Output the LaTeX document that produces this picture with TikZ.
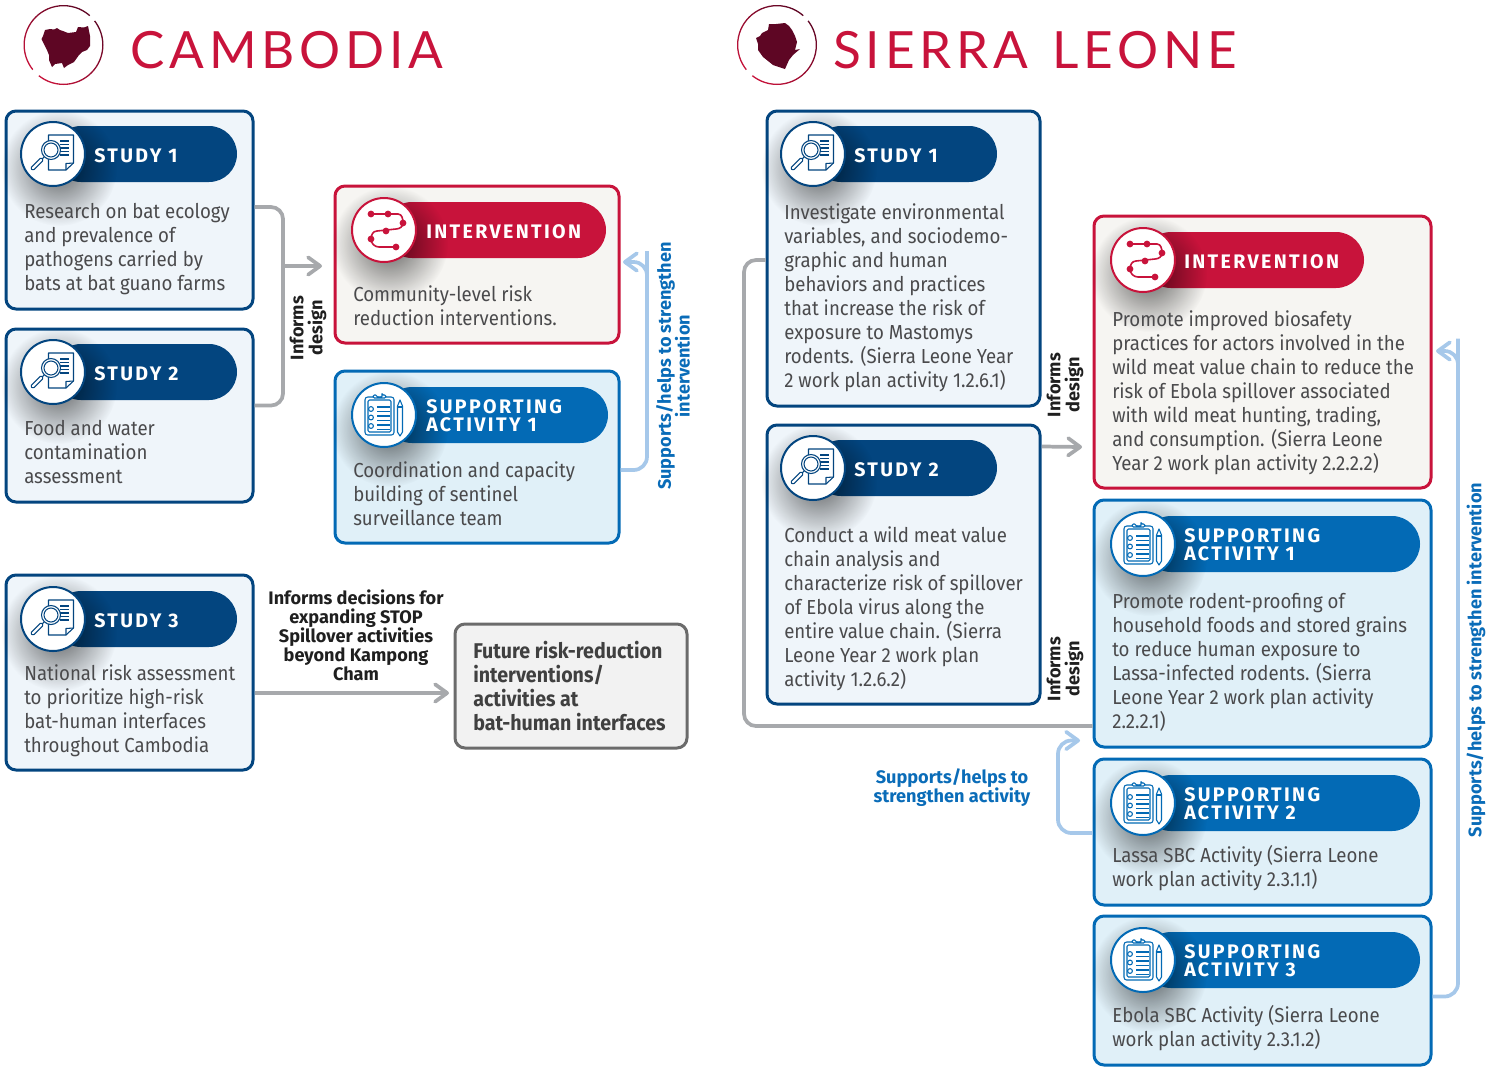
\documentclass[tikz,border=0pt]{standalone}
\usepackage{fontspec}
\usetikzlibrary{arrows.meta,calc,fadings}
\setmainfont{Fira Sans}
\newfontfamily\bodyf{Fira Sans}[FakeStretch=0.92]
\newfontfamily\boldf{Fira Sans}[BoldFont=* Bold]
\newfontfamily\futf{Fira Sans}[FakeStretch=0.92,BoldFont=* Bold]
\newfontfamily\headf{Fira Sans}[BoldFont=* Bold,LetterSpace=12]
\newfontfamily\titlef{Lato}[LetterSpace=9.5]
\definecolor{navy}{HTML}{03457F}
\definecolor{midblue}{HTML}{036AB5}
\definecolor{crim}{HTML}{C8133B}
\definecolor{maroon}{HTML}{5E0624}
\definecolor{studyfill}{HTML}{EFF5FA}
\definecolor{intfill}{HTML}{F6F5F2}
\definecolor{safill}{HTML}{E0F0F8}
\definecolor{linegray}{HTML}{A7A9AC}
\definecolor{lineblue}{HTML}{A6C8EA}
\definecolor{bodytext}{HTML}{4A4A4C}
\definecolor{labelblue}{HTML}{0A6CB8}
\tikzfading[name=softshadow,inner color=transparent!40,outer color=transparent!100]
\tikzset{
  panel/.style={draw=#1,line width=2.25pt,rounded corners=7.5pt,inner sep=0pt,outer sep=0pt,anchor=north west,xshift=.75pt,yshift=-.75pt},
  studybox/.style={panel=navy,fill=studyfill},
  intbox/.style={panel=crim,fill=intfill},
  sabox/.style={panel=midblue,fill=safill},
  futurebox/.style={panel=black!58,fill=black!5},
  bodytxt/.style={anchor=north west,inner sep=0pt,align=left,text=bodytext,xshift=-.75pt,font=\bodyf\fontsize{15.2}{18}\selectfont},
  headtxt/.style={anchor=west,inner sep=0pt,align=left,text=white,yshift=-.75pt,font=\headf\bfseries\fontsize{14.7}{13.5}\selectfont},
  infolab/.style={inner sep=0pt,align=center,text=black!88,font=\boldf\bfseries\fontsize{13.6}{14.2}\selectfont},
  bluelab/.style={inner sep=0pt,align=center,text=labelblue,font=\boldf\bfseries\fontsize{13.6}{14.2}\selectfont},
  titletxt/.style={anchor=base west,inner sep=0pt,text=crim,font=\titlef\fontsize{38.5}{44}\selectfont},
  grayline/.style={draw=linegray,line width=2.8pt,rounded corners=9pt},
  blueline/.style={draw=lineblue,line width=2.8pt,rounded corners=10pt},
  tip/.style={-{Straight Barb[length=9pt,width=13pt,line width=2.8pt,round]}},
  iconline/.style={draw=#1,line width=.8pt,line join=round},
}
% ring round a map
\newcommand{\ringlogo}[2]{%
  \shade[even odd rule,bottom color=crim,top color=maroon,shading angle=-40]
    (#1,#2) circle[radius=40] (#1,#2) circle[radius=38.7];
  \draw[white,line width=4pt] ($(#1,#2)+(141:39.3)$) arc[start angle=141,end angle=129,radius=39.3];
  \draw[white,line width=4pt] ($(#1,#2)+(-38:39.3)$) arc[start angle=-38,end angle=-48,radius=39.3];
}
% cx cy rightx colour
\newcommand{\pillhead}[4]{%
  \fill[#4,rounded corners=21pt] (#1,#2-28) rectangle (#3,#2+28);
  \fill[black,path fading=softshadow] (#1+6,#2+14) circle[radius=58];
  \fill[white] (#1,#2) circle[radius=32];
  \draw[#4,line width=1.5pt] (#1,#2) circle[radius=32];
}
\newcommand{\studyicon}[3]{\begin{scope}[shift={(#1,#2)}]
  \draw[iconline=#3,fill=white] (-4.5,-19) -- (20.5,-19) -- (20.5,9) -- (13,16) -- (-4.5,16) -- cycle;
  \draw[iconline=#3] (20.5,9) -- (13,9.5) -- (13,16);
  \foreach \yy in {-13,-9.5,-6,-2.5,1}{\draw[iconline=#3] (7,\yy) -- (16,\yy);}
  \draw[iconline=#3,fill=white] (-2,-4) circle[radius=9.5];
  \draw[iconline=#3] (-2,-4) circle[radius=7];
  \draw[iconline=#3] (-9,3) -- (-11,5);
  \draw[iconline=#3,fill=white,rounded corners=1pt] (-12,3.5) -- (-9.5,6) -- (-20,16.5) -- (-22.5,14) -- cycle;
\end{scope}}
\newcommand{\inticon}[3]{\begin{scope}[shift={(#1,#2)}]
  \draw[#3,line width=1.2pt,line cap=round] (-13,-16) -- (4,-16) -- (14,-16) to[out=0,in=90] (19,-7) to[out=-90,in=0] (12,-1) -- (-7,1) to[out=180,in=90] (-13,9) to[out=-90,in=180] (-5,17) -- (12,17);
  \foreach \px/\py in {-13/-16,4/-16,19/-7,2/1,-13/9,12/17}{\fill[#3] (\px,\py) circle[radius=3.4];}
\end{scope}}
\newcommand{\saicon}[3]{\begin{scope}[shift={(#1,#2)}]
  \draw[iconline=#3,rounded corners=2pt] (-19,-18) rectangle (10,20);
  \draw[iconline=#3,rounded corners=1pt] (-16,-15) rectangle (7,17);
  \draw[iconline=#3,fill=white,rounded corners=1pt] (-11,-17) -- (-11,-20) -- (-7,-20) arc[start angle=180,end angle=0,radius=2.5] -- (-2,-20) -- (2,-20) -- (2,-17) -- cycle;
  \foreach \yy in {-6,2.5,11}{\draw[iconline=#3] (-13,\yy) circle[radius=2.4];}
  \foreach \yy in {-8,-3.5,1,5.5,10,14.5}{\draw[iconline=#3] (-7,\yy) -- (6,\yy);}
  \draw[iconline=#3,fill=white] (16,-15) -- (18.5,-9) -- (18.5,17) -- (16,21) -- (13.5,17) -- (13.5,-9) -- cycle;
  \fill[#3] (13.5,-9) rectangle (18.5,-7);
\end{scope}}
\begin{document}
\begin{tikzpicture}[x=0.75pt,y=-0.75pt]
\useasboundingbox (0,0) rectangle (1496,1068);
% ---------- titles
\ringlogo{63.5}{45}
\fill[maroon] (41.5,39) -- (43,36) -- (45,30) -- (50,29) -- (54,29.5) -- (57,28) -- (60,30) -- (63,31) -- (68,33) -- (76,32) -- (78,27) -- (84,27.5) -- (88,26) -- (90,36) -- (90,46) -- (87,50) -- (82,52) -- (79,55) -- (74,62) -- (68,65) -- (64,68) -- (62,63) -- (55,64) -- (52,67) -- (49,60) -- (49,55) -- (47,50) -- (44,44) -- cycle;
\node[titletxt] (t1) at (130,68) {CAMBODIA};
\ringlogo{777}{45}
\fill[maroon] (756,38) -- (760,36) -- (762,33) -- (768,30) -- (769,24) -- (776,24) -- (785,23) -- (789,26) -- (792,30) -- (795,36) -- (797,42) -- (795,50) -- (800,49) -- (793,55) -- (789,60) -- (785,69) -- (779,67) -- (773,65) -- (763,57) -- (758,50) -- (758,44) -- cycle;
\node[titletxt] (t2) at (833,68) {SIERRA\hspace{4.5pt} LEONE};
% ---------- Cambodia
\node[studybox,minimum width=185.25pt,minimum height=148.5pt] (cs1) at (5,110) {};
\node[studybox,minimum width=185.25pt,minimum height=129.75pt] (cs2) at (5,328) {};
\node[studybox,minimum width=185.25pt,minimum height=146.25pt] (cs3) at (5,574) {};
\node[intbox,minimum width=213pt,minimum height=117.75pt] (ci) at (334,185) {};
\node[sabox,minimum width=213pt,minimum height=129pt] (ca) at (334,370) {};
\node[futurebox,minimum width=174pt,minimum height=93pt] (cf) at (454,623) {};
\coordinate (cj) at (283,266);
\draw[grayline] ($(cs1.east)+(1.5,-3)$) -| (cj) |- ($(cs2.east)+(1.5,-10)$);
\draw[grayline,tip] (cj) -- ($(ci.west)+(-13,1.5)$);
\draw[blueline,tip] ($(ca.east)+(1.5,13)$) -| ($(ci.east)+(28,0)$) |- ($(ci.east)+(4,-2.5)$);
\draw[grayline,tip] ($(cs3.east)+(1.5,20.5)$) -- ($(cf.west)+(-6,7)$);
\pillhead{53}{154}{237}{navy}\studyicon{53}{154}{navy}
\node[headtxt] (cs1h) at (94,155) {STUDY 1};
\node[bodytxt] (cs1t) at (25,203) {Research on bat ecology\\and prevalence of\\pathogens carried by\\bats at bat guano farms};
\pillhead{53}{372}{237}{navy}\studyicon{53}{372}{navy}
\node[headtxt] (cs2h) at (94,373) {STUDY 2};
\node[bodytxt] (cs2t) at (25,420) {Food and water\\contamination\\assessment};
\pillhead{53}{619}{237}{navy}\studyicon{53}{619}{navy}
\node[headtxt] (cs3h) at (94,620) {STUDY 3};
\node[bodytxt] (cs3t) at (25,664) {National risk assessment\\to prioritize high-risk\\bat-human interfaces\\throughout Cambodia};
\pillhead{384}{230}{606}{crim}\inticon{384}{230}{crim}
\node[headtxt] (cih) at (426,231) {INTERVENTION};
\node[bodytxt] (cit) at (354,285) {Community-level risk\\reduction interventions.};
\pillhead{384}{415}{608}{midblue}\saicon{384}{415}{midblue}
\node[headtxt] (cah) at (426,415) {SUPPORTING\\ACTIVITY 1};
\node[bodytxt] (cat) at (354,461) {Coordination and capacity\\building of sentinel\\surveillance team};
\node[bodytxt,text=black!75,font=\futf\bfseries\fontsize{16}{18}\selectfont] (cft) at (474,640.5) {Future risk-reduction\\interventions/\\activities at\\bat-human interfaces};
\node[infolab,rotate=90] (cl1) at (308,328) {Informs\\design};
\node[bluelab,rotate=90] (cl2) at (673,366) {Supports/helps to strengthen\\intervention};
\node[infolab] (cl3) at (356,635.5) {Informs decisions for\\expanding STOP\\Spillover activities\\beyond Kampong\\Cham};
% ---------- Sierra Leone
\node[studybox,minimum width=204.75pt,minimum height=221.25pt] (ss1) at (766,110) {};
\node[studybox,minimum width=204.75pt,minimum height=209.25pt] (ss2) at (766,424) {};
\node[intbox,minimum width=252.75pt,minimum height=204pt] (si) at (1093,215) {};
\node[sabox,minimum width=252.75pt,minimum height=185.25pt] (sa1) at (1093,499) {};
\node[sabox,minimum width=252.75pt,minimum height=109.5pt] (sa2) at (1093,758) {};
\node[sabox,minimum width=252.75pt,minimum height=111.75pt] (sa3) at (1093,915) {};
\coordinate (sj) at (744,726);
\draw[grayline] ($(ss1.west)+(-1.5,1.5)$) -| (sj) -- ($(sa1.west)+(-1.5,102.5)$);
\draw[grayline,tip] ($(ss2.east)+(2,-118)$) -- ($(si.west)+(-12,95)$);
\draw[blueline,tip] ($(sa2.west)+(-1.5,1)$) -| ($(sa1.west)+(-36,117)$) -- ($(sa1.west)+(-14,117)$);
\draw[blueline,tip] ($(sa3.east)+(1.5,6)$) -| ($(si.east)+(27,0)$) |- ($(si.east)+(5,-1)$);
\pillhead{813}{154}{997}{navy}\studyicon{813}{154}{navy}
\node[headtxt] (ss1h) at (854,155) {STUDY 1};
\node[bodytxt] (ss1t) at (785,203) {Investigate environmental\\variables, and sociodemo-\\graphic and human\\behaviors and practices\\that increase the risk of\\exposure to Mastomys\\rodents. (Sierra Leone Year\\2 work plan activity 1.2.6.1)};
\pillhead{813}{468}{997}{navy}\studyicon{813}{468}{navy}
\node[headtxt] (ss2h) at (854,469) {STUDY 2};
\node[bodytxt] (ss2t) at (785,526) {Conduct a wild meat value\\chain analysis and\\characterize risk of spillover\\of Ebola virus along the\\entire value chain. (Sierra\\Leone Year 2 work plan\\activity 1.2.6.2)};
\pillhead{1143}{260}{1364}{crim}\inticon{1143}{260}{crim}
\node[headtxt] (sih) at (1184,261) {INTERVENTION};
\node[bodytxt] (sit) at (1113,310) {Promote improved biosafety\\practices for actors involved in the\\wild meat value chain to reduce the\\risk of Ebola spillover associated\\with wild meat hunting, trading,\\and consumption. (Sierra Leone\\Year 2 work plan activity 2.2.2.2)};
\pillhead{1143}{544}{1420}{midblue}\saicon{1143}{544}{midblue}
\node[headtxt] (sa1h) at (1184,544) {SUPPORTING\\ACTIVITY 1};
\node[bodytxt] (sa1t) at (1113,593.5) {Promote rodent-proofing of\\household foods and stored grains\\to reduce human exposure to\\Lassa-infected rodents. (Sierra\\Leone Year 2 work plan activity\\2.2.2.1)};
\pillhead{1143}{803}{1420}{midblue}\saicon{1143}{803}{midblue}
\node[headtxt] (sa2h) at (1184,803) {SUPPORTING\\ACTIVITY 2};
\node[bodytxt] (sa2t) at (1113,845) {Lassa SBC Activity (Sierra Leone\\work plan activity 2.3.1.1)};
\pillhead{1143}{960}{1420}{midblue}\saicon{1143}{960}{midblue}
\node[headtxt] (sa3h) at (1184,960) {SUPPORTING\\ACTIVITY 3};
\node[bodytxt] (sa3t) at (1113,1005) {Ebola SBC Activity (Sierra Leone\\work plan activity 2.3.1.2)};
\node[infolab,rotate=90] (sl1) at (1065,385) {Informs\\design};
\node[infolab,rotate=90] (sl2) at (1065,669) {Informs\\design};
\node[bluelab] (sl3) at (952,787.5) {Supports/helps to\\strengthen activity};
\node[bluelab,rotate=90] (sl4) at (1476,660) {Supports/helps to strengthen intervention};
\end{tikzpicture}
\end{document}
